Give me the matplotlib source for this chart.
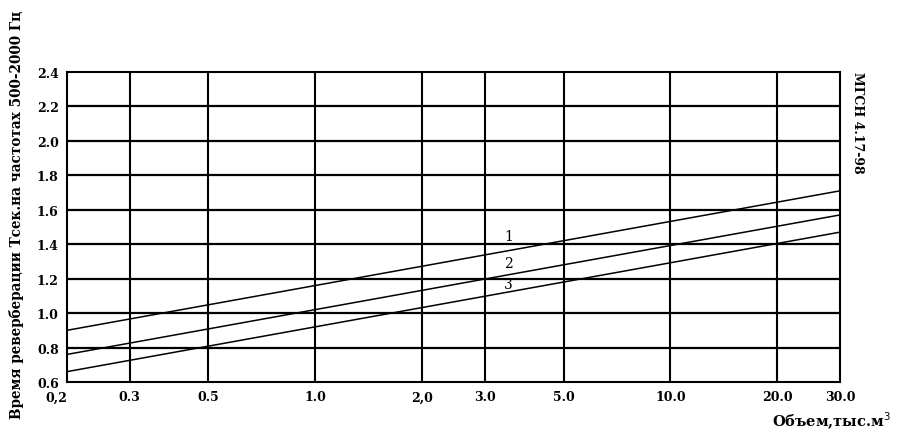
import numpy as np
import matplotlib.pyplot as plt

# volume, thousand m3 (end points of each straight line on log axis)
vol = [0.2, 30.0]
t1 = [0.90, 1.71]
t2 = [0.76, 1.57]
t3 = [0.66, 1.47]

xticks = [0.2, 0.3, 0.5, 1.0, 2.0, 3.0, 5.0, 10.0, 20.0, 30.0]
xlabels = ['0,2', '0.3', '0.5', '1.0', '2,0', '3.0', '5.0', '10.0', '20.0', '30.0']
yticks = [0.6, 0.8, 1.0, 1.2, 1.4, 1.6, 1.8, 2.0, 2.2, 2.4]
ylabels = ['0.6', '0.8', '1.0', '1.2', '1.4', '1.6', '1.8', '2.0', '2.2', '2.4']

# curve number labels: (x, y, text)
marks = [(3.5, 1.45, '1'), (3.5, 1.29, '2'), (3.5, 1.17, '3')]

plt.rcParams['font.family'] = 'DejaVu Serif'

fig = plt.figure(figsize=(9, 4.39), dpi=100)
ax = fig.add_axes([0.0744, 0.1276, 0.8589, 0.7061])
ax.set_xscale('log')
ax.set_xlim(0.2, 30)
ax.set_ylim(0.6, 2.4)

for x in xticks[1:-1]:
    ax.axvline(x, color='black', lw=1.5)
for y in yticks[1:-1]:
    ax.axhline(y, color='black', lw=1.6)

for t in (t1, t2, t3):
    ax.plot(vol, t, color='black', lw=1.1)

for x, y, s in marks:
    ax.text(x, y, s, fontsize=10, ha='center', va='center')

for sp in ax.spines.values():
    sp.set_linewidth(1.5)

ax.set_xticks(xticks)
ax.set_xticklabels(xlabels, fontsize=9, fontweight='bold')
ax.xaxis.set_minor_locator(plt.NullLocator())
ax.set_yticks(yticks)
ax.set_yticklabels(ylabels, fontsize=9, fontweight='bold')
ax.tick_params(length=0, pad=6)
ax.get_xticklabels()[0].set_horizontalalignment('right')

fig.text(0.018, 0.51, 'Время реверберации Тсек.на частотах 500-2000 Гц',
         rotation=90, ha='center', va='center', fontsize=9.8, fontweight='bold')
fig.text(0.953, 0.72, 'МГСН 4.17-98', rotation=-90, ha='center', va='center',
         fontsize=9, fontweight='bold')
fig.text(0.99, 0.04, 'Объем,тыс.м$^3$', ha='right', va='center',
         fontsize=10.5, fontweight='bold')

fig.savefig('out.png', dpi=100)
